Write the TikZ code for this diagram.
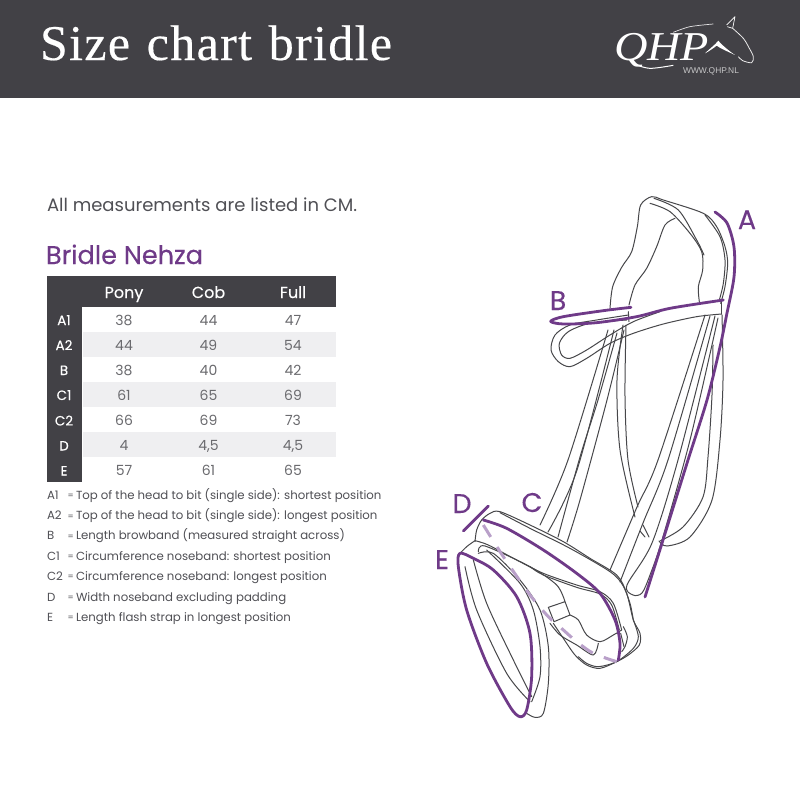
\documentclass[tikz,border=0pt]{standalone}
\usepackage{fontspec}
\setmainfont{Poppins}
\newfontfamily\medfont[FakeBold=0.25]{Poppins}
\newfontfamily\titlefont[LetterSpace=2.7,WordSpace=1.2,FakeBold=0.35]{Liberation Serif}
\newfontfamily\logofont{Liberation Serif}
\newfontfamily\urlfont{Liberation Sans}
\definecolor{hdr}{HTML}{424146}
\definecolor{pur}{HTML}{6F3A88}
\definecolor{lpur}{HTML}{B9A0C9}
\definecolor{rowbg}{HTML}{EFEFF1}
\definecolor{val}{HTML}{6A6A6E}
\definecolor{txt}{HTML}{505055}
\definecolor{ink}{HTML}{47474A}
\tikzset{
 t/.style={inner sep=0pt,outer sep=0pt},
 hd/.style={t,anchor=base,text=white,font=\medfont\fontsize{16}{16}\selectfont},
 rowl/.style={t,anchor=base,text=white,font=\medfont\fontsize{13.5}{13.5}\selectfont},
 cell/.style={t,anchor=base,text=val,font=\fontsize{14}{14}\selectfont},
 leg/.style={t,anchor=base west,text=txt,font=\fontsize{11.75}{12}\selectfont},
 legeq/.style={t,anchor=base west,text=txt,font=\fontsize{8.5}{9}\selectfont},
 tag/.style={t,anchor=base,text=pur,font=\medfont\fontsize{27}{27}\selectfont},
 thin ink/.style={draw=ink,line width=1pt,line cap=round,line join=round},
 purp/.style={draw=pur,line width=2.8pt,line cap=round,line join=round},
 z1/.style={x=0.33333pt,y=-0.33333pt,shift={(430pt,-180pt)}},
 z2/.style={x=0.33333pt,y=-0.33333pt,shift={(430pt,-470pt)}},
 z3/.style={x=0.33333pt,y=-0.33333pt,shift={(590pt,0pt)}},
}
\begin{document}
\begin{tikzpicture}[x=1pt,y=-1pt]
\useasboundingbox (0,0) rectangle (800,800);
\fill[white] (0,0) rectangle (800,800);
\fill[hdr] (0,0) rectangle (800,98);
\node[t,anchor=base west,text=white,font=\titlefont\fontsize{50}{50}\selectfont] (title) at (40,60) {Size chart bridle};
% logo
\node[t,anchor=base west,text=white,xscale=1.13,font=\logofont\itshape\fontsize{41}{41}\selectfont] (logo) at (614,61) {\smash{QHP}};
\node[t,anchor=base,text=white!70!hdr,font=\urlfont\fontsize{8.4}{9}\selectfont] (url) at (711,74) {WWW.QHP.NL};
\begin{scope}[z3]
\draw[white!85!hdr,line width=0.7pt] plot[smooth] coordinates {(250,97)(300,80)(370,72)};
\draw[white!90!hdr,line width=0.8pt,line join=round] plot[smooth] coordinates {(428,85)(460,115)(478,145)(490,170)(485,188)(458,182)(445,170)};
\draw[white,line width=0.7pt,line join=round] (410,75)--(435,50)--(428,85)--(412,80);
\fill[white] (345,160) .. controls (360,145) and (375,135) .. (385,122) .. controls (395,135) and (420,155) .. (435,165) .. controls (415,155) and (395,148) .. (380,137) .. controls (370,145) and (355,155) .. (345,160) -- cycle;
\draw[white,line width=1pt] plot[smooth] coordinates {(130,192)(180,205)(250,196)};
\end{scope}
% intro
\node[t,anchor=base west,text=txt,font=\fontsize{18}{18}\selectfont] (intro) at (47,211) {All measurements are listed in CM.};
\node[t,anchor=base west,text=pur,font=\medfont\fontsize{25.6}{26}\selectfont] (name) at (46,264) {Bridle Nehza};
% table
\fill[rowbg] (83,332) rectangle (336,357);
\fill[rowbg] (83,382) rectangle (336,407);
\fill[rowbg] (83,432) rectangle (336,457);
\fill[hdr] (47,276) rectangle (336,307);
\fill[hdr] (47,307) rectangle (82,482);
\node[hd] (hp) at (124,298) {Pony};
\node[hd] (hc) at (208.5,298) {Cob};
\node[hd] (hf) at (293,298) {Full};
\foreach \n/\y/\l/\a/\b/\c in {a/325/A1/38/44/47,b/350/A2/44/49/54,c/375/B/38/40/42,d/400/C1/61/65/69,e/425.5/C2/66/69/73,f/450.5/D/4/{4,5}/{4,5},g/475.5/E/57/61/65}{
 \node[rowl] (r\n) at (64,\y) {\l};
 \node[cell] (p\n) at (124,\y) {\a};
 \node[cell] (q\n) at (208.5,\y) {\b};
 \node[cell] (s\n) at (293,\y) {\c};
}
% legend
\foreach \n/\y/\l/\tx in {a/499/A1/{Top of the head to bit (single side): shortest position},
 b/519.5/A2/{Top of the head to bit (single side): longest position},
 c/539.5/B/{Length browband (measured straight across)},
 d/560/C1/{Circumference noseband: shortest position},
 e/580/C2/{Circumference noseband: longest position},
 f/601/D/{Width noseband excluding padding},
 g/621/E/{Length flash strap in longest position}}{
 \node[leg] (ll\n) at (47,\y) {\l};
 \node[legeq] (le\n) at (67.5,\y-0.5) {=};
 \node[leg] (lt\n) at (76,\y) {\tx};
}
% bridle: head piece
\begin{scope}[z1]
\draw[thin ink] plot[smooth] coordinates {(540,385)(548,320)(575,262)(605,215)(622,140)(632,75)(665,50)(700,60)(820,100)(860,140)(885,200)(893,250)(885,320)(872,370)};
\draw[thin ink] plot[smooth] coordinates {(660,70)(720,95)(780,160)(815,215)(818,270)(805,320)(808,365)};
\draw[thin ink] plot[smooth] coordinates {(672,55)(745,90)(800,180)(822,225)};
\draw[thin ink] plot[smooth] coordinates {(735,115)(705,135)(680,200)(650,265)(615,315)(597,375)};
\draw[thin ink] plot[smooth] coordinates {(825,105)(870,170)(885,240)(880,310)(868,360)};
% browband
\draw[thin ink] plot[smooth] coordinates {(875,402)(800,410)(700,432)(610,460)(540,490)(470,535)(420,560)(385,545)(363,510)(375,465)(420,435)(500,420)(595,405)};
\draw[thin ink] plot[smooth] coordinates {(690,395)(610,425)(540,465)(470,510)(420,535)(395,525)(388,490)(415,455)(480,430)(590,420)};
\draw[thin ink] (595,395)--(597,425);
\draw[thin ink] (875,365)--(875,402);
\end{scope}
% cheek straps, left
\draw[thin ink] plot[smooth] coordinates {(608,330)(568,460)(540,525)};
\draw[thin ink] plot[smooth] coordinates {(614,330)(577,470)(548,532)};
\draw[thin ink] plot[smooth] coordinates {(617,333)(598,400)(580,457)(558,537)};
\draw[thin ink] plot[smooth] coordinates {(624,330)(607,400)(580,500)(567,542)};
% throat centre
\draw[thin ink] plot[smooth] coordinates {(623,325)(617,380)(620,450)(635,517)};
\draw[thin ink] plot[smooth] coordinates {(626,325)(625,397)(628,460)(638,507)};
% cheek straps, right
\draw[thin ink] plot[smooth] coordinates {(705,315)(658,460)(637,507)(610,570)};
\draw[thin ink] plot[smooth] coordinates {(710,316)(668,460)(643,523)(620,582)};
\draw[thin ink] plot[smooth] coordinates {(715,316)(678,460)(652,543)(627,585)(633,595)(642,593)(650,575)(662,540)(690,440)(718,318)};
\draw[thin ink] (643,525)--(649,537);
\draw[thin ink] (640,531)--(645,537);
% right latch
\draw[thin ink] plot[smooth] coordinates {(722,315)(723,380)(720,440)(712,500)(690,537)(667,546)(659,541)};
\draw[thin ink] plot[smooth] coordinates {(713,345)(712,395)(708,457)(703,497)(683,527)(660,541)};
% noseband
\begin{scope}[z2]
\draw[thin ink] plot[smooth] coordinates {(135,215)(140,180)(155,150)(180,130)(210,125)(300,165)(400,215)(480,265)(560,315)(590,370)(610,450)(630,490)(628,525)(595,555)(560,575)(510,595)(470,585)(435,555)(400,505)(370,460)};
\draw[thin ink] plot[smooth] coordinates {(210,128)(300,175)(420,235)(540,305)(578,345)(600,400)(610,450)};
\draw[thin ink] plot[smooth] coordinates {(135,212)(175,225)(260,270)(340,310)(440,345)(510,365)(550,400)(575,480)};
\draw[thin ink] plot[smooth] coordinates {(300,290)(340,315)(440,352)(510,372)(545,405)(568,480)};
\draw[thin ink] plot[smooth] coordinates {(145,245)(165,228)(300,290)(380,345)(405,395)};
\draw[thin ink] (405,395)--(355,412)--(372,455)--(420,435)--(405,395);
\draw[thin ink] plot[smooth] coordinates {(420,435)(445,450)(470,495)(510,515)(550,495)(575,480)};
\draw[thin ink] plot[smooth] coordinates {(360,460)(390,495)(440,525)(490,555)(505,520)};
\draw[thin ink] plot[smooth] coordinates {(445,560)(470,580)(505,590)(560,575)(610,535)(625,500)(610,450)};
\draw[thin ink] plot[smooth] coordinates {(580,470)(592,500)(585,530)(575,545)};
\draw[thin ink] plot[smooth] coordinates {(572,490)(582,530)};
% flash
\draw[thin ink] plot[smooth] coordinates {(85,255)(110,230)(135,212)};
\draw[thin ink] plot[smooth] coordinates {(145,250)(190,250)(270,330)(330,420)(355,530)(355,640)(340,730)(315,742)(290,730)};
\draw[thin ink] plot[smooth] coordinates {(170,240)(270,340)(310,420)(330,530)(330,620)(305,695)};
\draw[thin ink] plot[smooth] coordinates {(105,290)(140,420)(230,610)(300,695)};
\draw[thin ink] plot[smooth] coordinates {(130,270)(170,400)(250,570)(305,680)};
% measurements
\draw[lpur,line width=3pt,dash pattern=on 14pt off 12pt] plot[smooth] coordinates {(160,165)(220,260)(300,375)(355,440)(400,480)(440,515)(490,550)(560,575)};
\draw[purp] plot[smooth] coordinates {(160,150)(230,175)(340,240)(440,310)(510,370)(555,450)(570,520)(565,570)};
\draw[purp] (100,183)--(175,108);
\draw[purp] plot[smooth cycle] coordinates {(90,250)(85,290)(110,420)(170,580)(240,710)(270,740)(290,720)(305,620)(300,490)(260,380)(190,300)(130,265)};
\end{scope}
\draw[purp] plot[smooth] coordinates {(715,212)(727,223)(734,247)(734,277)(727,313)(720,347)(707,400)(688,460)(663,540)(645,597)};
\begin{scope}[z1]
\draw[purp] plot[smooth] coordinates {(603,382)(520,392)(400,410)(362,424)(400,432)(500,428)(620,410)(720,385)(880,360)};
\end{scope}
% labels
\node[tag] (la) at (747,229) {A};
\node[tag] (lb) at (558,310) {B};
\node[tag] (lc) at (532,512) {C};
\node[tag] (ld) at (462,513) {D};
\node[tag] (le) at (442,569) {E};
\end{tikzpicture}
\end{document}
